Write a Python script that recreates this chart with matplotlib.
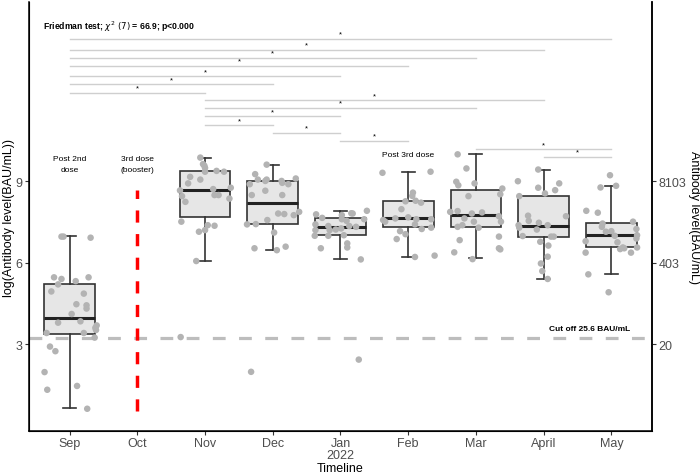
import matplotlib
matplotlib.use("Agg")
import matplotlib.pyplot as plt
import numpy as np

plt.rcParams["font.family"] = ["Liberation Sans", "DejaVu Sans"]

# x axis
months = ["Sep", "Oct", "Nov", "Dec", "Jan\n2022", "Feb", "Mar", "April", "May"]
box_pos = [1, 3, 4, 5, 6, 7, 8, 9]

# log(antibody) of each sample, with its horizontal jitter, per month
sep_y = [6.96, 6.96, 6.92, 5.46, 5.40, 5.32, 5.46, 5.20, 4.94, 4.86, 4.47, 4.43, 4.31, 4.11,
         3.79, 3.84, 3.69, 3.60, 3.52, 3.41, 3.41, 3.24, 2.91, 2.74, 1.97, 1.46, 1.32, 0.62]
sep_dx = [-0.12, -0.09, 0.31, -0.23, -0.12, 0.09, 0.28, -0.17, -0.27, 0.21, 0.10, 0.25, 0.25, 0.03,
          -0.17, 0.16, 0.40, 0.38, 0.39, -0.34, 0.21, 0.37, -0.29, -0.21, -0.37, 0.11, -0.33, 0.26]
nov_y = [9.87, 9.63, 9.57, 9.49, 9.35, 9.38, 9.35, 9.16, 9.06, 8.92, 8.66, 8.71, 8.76, 8.45,
         8.49, 8.49, 8.36, 8.24, 7.51, 7.38, 7.36, 7.20, 7.14, 6.06, 3.26]
nov_dx = [-0.07, -0.03, -0.01, 0.0, 0.0, 0.17, 0.28, -0.22, -0.07, -0.25, -0.37, 0.12, 0.38, -0.34,
          0.14, 0.20, 0.36, -0.29, -0.35, 0.04, 0.14, 0.0, -0.09, -0.13, -0.36]
dec_y = [9.61, 9.26, 9.06, 9.01, 9.06, 9.01, 8.94, 8.89, 9.10, 8.89, 8.65, 8.49, 8.49, 7.81,
         7.79, 7.75, 7.87, 7.57, 7.41, 7.42, 7.11, 6.53, 6.46, 6.59, 1.98]
dec_dx = [-0.09, -0.26, -0.22, -0.11, -0.09, 0.13, 0.14, 0.23, 0.34, -0.34, -0.11, 0.14, -0.31, 0.08,
          0.17, 0.31, 0.39, -0.08, -0.38, -0.25, 0.02, -0.27, 0.06, 0.19, -0.32]
jan_y = [7.78, 7.65, 7.75, 7.82, 7.81, 7.91, 7.60, 7.54, 7.60, 7.41, 7.35, 7.35, 7.32, 7.20,
         7.20, 7.22, 7.26, 6.99, 6.99, 7.01, 6.71, 6.56, 6.53, 6.12, 2.43]
jan_dx = [-0.36, -0.27, 0.02, 0.16, 0.18, 0.39, 0.02, 0.09, 0.35, -0.37, -0.18, 0.13, 0.23, -0.37,
          -0.16, -0.07, 0.01, -0.38, -0.18, 0.05, 0.10, 0.10, -0.29, 0.30, 0.27]
feb_y = [9.31, 9.35, 8.58, 8.46, 8.26, 8.28, 8.21, 7.97, 7.57, 7.63, 7.67, 7.60, 7.60, 7.51,
         7.41, 7.16, 7.05, 7.24, 7.29, 6.87, 6.21, 6.26]
feb_dx = [-0.38, 0.33, 0.07, 0.06, -0.04, 0.11, 0.19, -0.10, -0.37, -0.19, 0.0, 0.12, 0.34, -0.34,
          0.10, -0.12, -0.04, 0.20, 0.34, -0.17, 0.10, 0.39]
mar_y = [9.99, 9.47, 8.98, 8.85, 8.92, 8.73, 8.52, 8.45, 7.87, 7.90, 7.81, 7.85, 7.63, 7.51,
         7.71, 7.51, 7.32, 7.38, 7.29, 6.83, 6.96, 6.53, 6.49, 6.38, 6.13]
mar_dx = [-0.27, -0.14, -0.29, -0.26, -0.02, 0.39, 0.36, -0.11, -0.38, -0.27, -0.06, 0.09, -0.17, -0.03,
          0.34, 0.37, -0.27, -0.20, 0.04, -0.24, 0.34, 0.34, 0.36, -0.32, -0.05]
apr_y = [9.43, 9.00, 8.92, 8.67, 8.76, 8.55, 8.45, 7.71, 7.73, 7.54, 7.47, 7.38, 7.38, 7.29,
         7.22, 6.98, 6.96, 6.96, 6.77, 6.63, 6.22, 5.97, 5.69, 5.40]
apr_dx = [-0.08, -0.38, 0.23, 0.17, -0.08, 0.02, -0.36, 0.33, -0.23, -0.22, -0.07, 0.06, -0.37, -0.36,
          -0.10, -0.31, 0.11, 0.15, -0.05, 0.07, 0.06, -0.04, -0.02, 0.06]
may_y = [9.22, 8.77, 8.83, 7.91, 7.84, 7.44, 7.32, 7.51, 7.24, 7.14, 7.16, 6.99, 7.01, 6.89,
         6.79, 6.75, 6.56, 6.50, 6.56, 6.53, 6.37, 6.37, 5.57, 4.91]
may_dx = [-0.02, -0.16, 0.07, -0.37, -0.20, -0.13, -0.14, 0.32, 0.37, -0.08, 0.0, 0.05, 0.38, 0.37,
          -0.38, 0.09, 0.17, 0.13, 0.38, 0.19, -0.38, 0.29, -0.34, -0.04]

# box statistics as drawn
box_q1 = [3.38, 7.68, 7.42, 7.01, 7.31, 7.30, 6.94, 6.56]
box_med = [3.98, 8.68, 8.19, 7.30, 7.63, 7.76, 7.36, 7.01]
box_q3 = [5.23, 9.36, 9.00, 7.65, 8.26, 8.67, 8.45, 7.47]
whisker_lo = [0.63, 6.06, 6.46, 6.13, 6.21, 6.16, 5.40, 5.57]
whisker_hi = [6.98, 9.87, 9.61, 7.91, 9.35, 9.99, 9.43, 8.83]

# pairwise comparisons (significant)
pair_from = [1, 1, 1, 1, 1, 1, 1, 3, 3, 3, 3, 4, 5, 7, 8]
pair_to = [9, 8, 7, 6, 5, 4, 3, 8, 7, 5, 4, 5, 6, 9, 9]
pair_y = [14.25, 13.85, 13.55, 13.26, 12.87, 12.57, 12.26, 11.98, 11.70, 11.39, 11.06, 10.78, 10.49, 10.18, 9.90]

cutoff = np.log(25.6)
right_ticks = [3, 6, 9]

fig = plt.figure(figsize=(7, 4.77), dpi=100)
ax = fig.add_axes([0.0414, 0.0943, 0.89, 0.8994])

all_y = [sep_y, nov_y, dec_y, jan_y, feb_y, mar_y, apr_y, may_y]
all_dx = [sep_dx, nov_dx, dec_dx, jan_dx, feb_dx, mar_dx, apr_dx, may_dx]

stats = []
for i in range(len(box_pos)):
    stats.append({"med": box_med[i], "q1": box_q1[i], "q3": box_q3[i],
                  "whislo": whisker_lo[i], "whishi": whisker_hi[i], "fliers": []})
ax.bxp(stats, positions=box_pos, widths=0.75, capwidths=0.19, patch_artist=True,
       showfliers=False,
       boxprops=dict(facecolor="#E6E6E6", edgecolor="#333333", linewidth=1.2),
       medianprops=dict(color="#222222", linewidth=2.2),
       whiskerprops=dict(color="#333333", linewidth=1.2),
       capprops=dict(color="#333333", linewidth=1.2), zorder=2)

for pos, ys, dxs in zip(box_pos, all_y, all_dx):
    xs = [pos + d for d in dxs]
    ax.scatter(xs, ys, s=22, color="#B3B3B3", edgecolors="none", zorder=3)

# cut off line
ax.axhline(cutoff, color="#BDBDBD", lw=2.3, dashes=(4, 4.2), zorder=1)
ax.text(8.68, 3.56, "Cut off 25.6 BAU/mL", fontsize=6, fontweight="bold", ha="center", va="center")

# booster line
ax.plot([2, 2], [0.53, 8.67], color="red", lw=2.5, dashes=(3.5, 3.3), zorder=2)

# brackets
for a, b, h in zip(pair_from, pair_to, pair_y):
    ax.plot([a, b], [h, h], color="#CFCFCF", lw=1.0, zorder=1)
    ax.text((a + b) / 2, h + 0.17, "*", fontsize=5.5, ha="center", va="center")

ax.text(0.6, 14.71, r"Friedman test; $\chi^2\ (7)$ = 66.9; p<0.000", fontsize=6.2,
        fontweight="bold", ha="left", va="center")
ax.text(1, 9.63, "Post 2nd\ndose", fontsize=6, ha="center", va="center", linespacing=1.7)
ax.text(2, 9.63, "3rd dose\n(booster)", fontsize=6, ha="center", va="center", linespacing=1.7)
ax.text(6, 9.98, "Post 3rd dose", fontsize=6, ha="center", va="center")

ax.set_xlim(0.4, 9.6)
ax.set_ylim(-0.2, 15.6)
ax.set_xticks(range(1, 10))
ax.set_xticklabels(months)
for lbl in ax.get_xticklabels():
    lbl.set_linespacing(0.95)
ax.set_yticks(right_ticks)
ax.set_xlabel("Timeline", fontsize=9, labelpad=1)
ax.set_ylabel("log(Antibody level(BAU/mL))", fontsize=9, labelpad=0.5)
ax.spines["top"].set_visible(False)
for side in ["left", "bottom", "right"]:
    ax.spines[side].set_linewidth(1.1)
ax.tick_params(length=3, width=0.8, color="#333333", labelcolor="#4D4D4D", labelsize=9, pad=1.5)

ax2 = ax.twinx()
ax2.set_ylim(ax.get_ylim())
ax2.set_yticks(right_ticks)
ax2.set_yticklabels([f"{np.exp(v):.0f}" for v in right_ticks])
ax2.set_ylabel("Antibody level(BAU/mL)", fontsize=9, rotation=270, labelpad=10)
ax2.spines["top"].set_visible(False)
ax2.spines["right"].set_linewidth(1.1)
ax2.tick_params(length=3, width=0.8, color="#333333", labelcolor="#4D4D4D", labelsize=9, pad=1.5)

fig.savefig("out.png", dpi=100)
